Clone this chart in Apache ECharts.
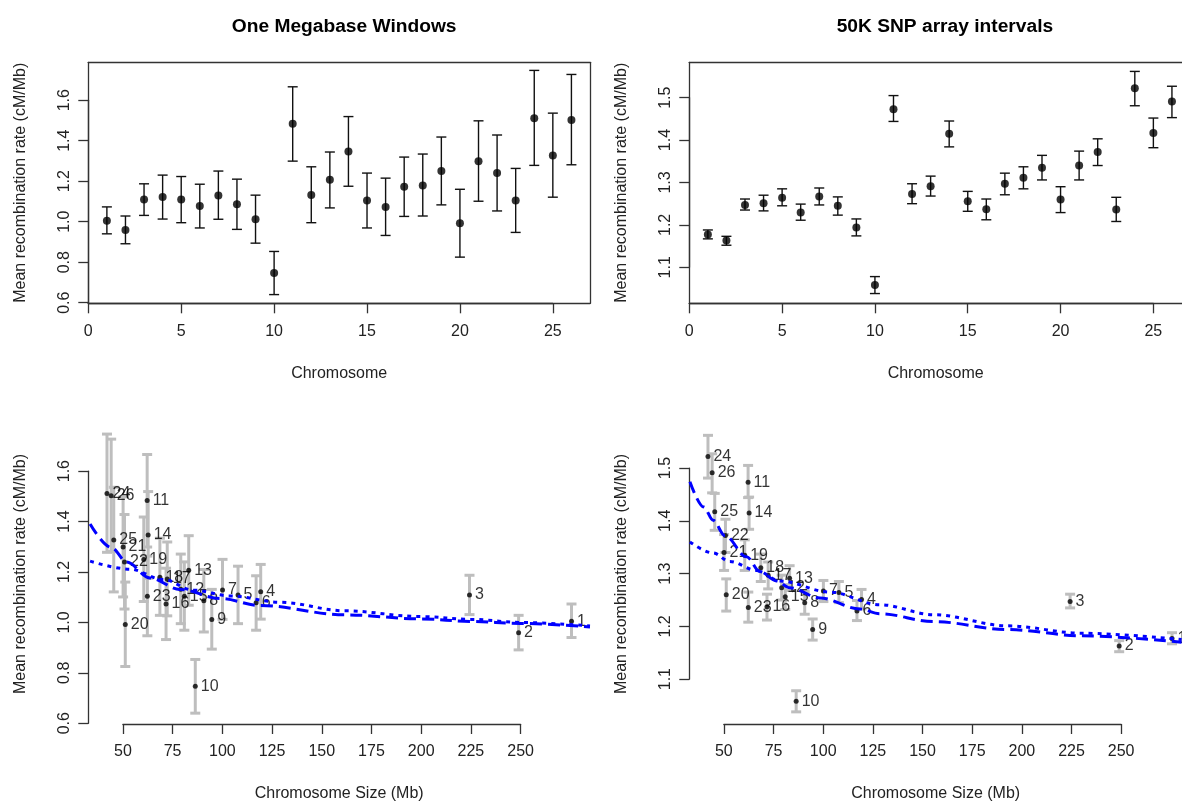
<!DOCTYPE html>
<html>
<head>
<meta charset="utf-8">
<script src="https://cdn.jsdelivr.net/npm/echarts@6/dist/echarts.min.js"></script>
<style>
html,body{margin:0;padding:0;background:#fff;}
#chart{width:1182px;height:804px;}
</style>
</head>
<body>
<div id="chart"></div>
<script>
// ---------------- data ----------------
const chromosomes = [1,2,3,4,5,6,7,8,9,10,11,12,13,14,15,16,17,18,19,20,21,22,23,24,25,26];
const chromSizeMb = [275.6,249.0,224.3,119.3,107.9,117.0,100.1,90.7,94.7,86.4,62.2,79.1,83.1,62.7,80.9,71.7,72.3,68.6,60.5,51.2,50.1,50.8,62.3,42.0,45.4,44.1];

// One Megabase Windows: mean and error bar limits
const mbMean  = [1.005,0.959,1.109,1.122,1.109,1.078,1.129,1.086,1.012,0.747,1.484,1.132,1.207,1.347,1.104,1.073,1.172,1.179,1.250,0.992,1.299,1.240,1.104,1.511,1.327,1.502];
const mbLower = [0.940,0.891,1.031,1.013,0.995,0.969,1.012,0.962,0.894,0.640,1.299,0.995,1.068,1.175,0.969,0.932,1.026,1.028,1.083,0.825,1.101,1.053,0.947,1.278,1.121,1.281];
const mbUpper = [1.073,1.028,1.187,1.230,1.223,1.185,1.250,1.210,1.131,0.853,1.666,1.271,1.344,1.519,1.240,1.215,1.319,1.334,1.418,1.160,1.498,1.428,1.263,1.747,1.536,1.727];

// 50K SNP array intervals
const snpMean  = [1.177,1.163,1.247,1.251,1.264,1.229,1.267,1.245,1.194,1.058,1.473,1.273,1.291,1.415,1.256,1.237,1.297,1.311,1.335,1.260,1.340,1.372,1.236,1.522,1.417,1.491];
const snpLower = [1.167,1.152,1.235,1.233,1.245,1.211,1.247,1.223,1.174,1.038,1.444,1.250,1.268,1.384,1.232,1.212,1.271,1.285,1.306,1.229,1.306,1.340,1.208,1.481,1.382,1.453];
const snpUpper = [1.188,1.173,1.261,1.270,1.285,1.249,1.287,1.266,1.214,1.078,1.505,1.297,1.315,1.445,1.279,1.261,1.322,1.337,1.364,1.290,1.374,1.403,1.265,1.562,1.452,1.527];

// fitted curves: [size (Mb), rate]
const mbFitDashed = [[33.5,1.390],[44.2,1.297],[51.9,1.240],[63.6,1.176],[78.7,1.131],[98.8,1.095],[119.2,1.067],[161.5,1.030],[200,1.014],[225,1.004],[250,0.996],[284.9,0.982]];
const mbFitDotted = [[33.5,1.243],[53.6,1.211],[70.3,1.170],[85.4,1.128],[103.9,1.105],[129,1.080],[161.5,1.046],[200,1.023],[225,1.012],[250,1.000],[284.9,0.986]];
const snpFitDashed = [[32.9,1.474],[39.9,1.426],[44.6,1.401],[50.5,1.372],[61.4,1.332],[68.1,1.304],[76.5,1.286],[83.2,1.273],[98.3,1.254],[118.4,1.233],[128.5,1.224],[155.7,1.209],[193,1.194],[230.4,1.182],[280.4,1.170]];
const snpFitDotted = [[32.9,1.360],[44.6,1.339],[53,1.323],[66.5,1.306],[78.2,1.286],[103.3,1.265],[128.5,1.241],[155.7,1.222],[193,1.201],[230.4,1.187],[280.4,1.175]];

// tick labels
const chromTicks = {min:0, max:25, step:5};
const sizeTicks = {min:50, max:250, step:25};
const mbRateTicks = {min:0.6, max:1.6, step:0.2};
const snpRateTicks = {min:1.1, max:1.5, step:0.1};

const titles = ['One Megabase Windows', '50K SNP array intervals'];
const yTitle = 'Mean recombination rate (cM/Mb)';

// ---------------- chart ----------------
const FONT = 'Liberation Sans';
const INK = '#222';
const AX = '#333';
const CANVAS_W = 1182;

const option = {
  backgroundColor:'#fff',
  animation:false,
  title:[],
  grid:[], xAxis:[], yAxis:[], series:[]
};

function errRender(color, width){
  return function(params, api){
    const x = api.value(0), lo = api.value(1), hi = api.value(2);
    const a = api.coord([x, lo]), b = api.coord([x, hi]);
    const hw = 5;
    const st = {stroke:color, lineWidth:width, fill:null};
    return {type:'group', children:[
      {type:'line', shape:{x1:a[0],y1:a[1],x2:b[0],y2:b[1]}, style:st},
      {type:'line', shape:{x1:a[0]-hw,y1:a[1],x2:a[0]+hw,y2:a[1]}, style:st},
      {type:'line', shape:{x1:b[0]-hw,y1:b[1],x2:b[0]+hw,y2:b[1]}, style:st}
    ]};
  };
}

const lineOnly = {show:true, onZero:false, lineStyle:{color:AX, width:1.3}};
const noLine = {show:false, onZero:false};

function addPanel(p){
  const g = option.grid.length;
  const box = Object.assign({}, p.box);
  const xr = p.xr.slice(), yr = p.yr.slice();
  const titleCenter = (box.left + box.right)/2;
  let rightBorder = p.boxed;
  // plot region runs past the page edge: keep the scale, stop the grid at the edge
  if (box.right > CANVAS_W){
    xr[1] = xr[0] + (CANVAS_W - box.left)/(box.right - box.left)*(xr[1]-xr[0]);
    box.right = CANVAS_W;
    rightBorder = false;
  }
  const Wd = box.right - box.left, H = box.bottom - box.top;
  // main grid
  option.grid.push({left:box.left, top:box.top, width:Wd, height:H, show:false});
  option.xAxis.push({gridIndex:g, type:'value', min:xr[0], max:xr[1], position:'bottom',
    axisLine:p.boxed ? lineOnly : noLine, axisTick:{show:false}, axisLabel:{show:false}, splitLine:{show:false},
    name:p.xName, nameLocation:'middle', nameGap:62,
    nameTextStyle:{fontSize:16, color:INK, fontFamily:FONT}});
  option.yAxis.push({gridIndex:g, type:'value', min:yr[0], max:yr[1], position:'left',
    axisLine:p.boxed ? lineOnly : noLine, axisTick:{show:false}, axisLabel:{show:false}, splitLine:{show:false},
    name:yTitle, nameLocation:'middle', nameGap:60, nameRotate:90,
    nameTextStyle:{fontSize:16, color:INK, fontFamily:FONT}});
  const mainX = option.xAxis.length - 1, mainY = option.yAxis.length - 1;
  if (p.boxed){
    // top edge and (if on the page) right edge of the box
    option.xAxis.push({gridIndex:g, type:'value', min:xr[0], max:xr[1], position:'top',
      axisLine:lineOnly, axisTick:{show:false}, axisLabel:{show:false}, splitLine:{show:false}});
    if (rightBorder) option.yAxis.push({gridIndex:g, type:'value', min:yr[0], max:yr[1], position:'right',
      axisLine:lineOnly, axisTick:{show:false}, axisLabel:{show:false}, splitLine:{show:false}});
  }
  // helper grid for x axis ticks
  const xt = p.xt, yt = p.yt;
  const xl = box.left + (xt.min - xr[0])/(xr[1]-xr[0])*Wd;
  const xw = (xt.max - xt.min)/(xr[1]-xr[0])*Wd;
  const gx = option.grid.length;
  option.grid.push({left:xl, top:box.top, width:xw, height:H, show:false});
  option.xAxis.push({gridIndex:gx, type:'value', min:xt.min, max:xt.max, interval:xt.step, position:'bottom',
    axisLine:lineOnly,
    axisTick:{show:true, length:10, lineStyle:{color:AX, width:1.3}},
    axisLabel:{margin:20, fontSize:16, color:INK, fontFamily:FONT},
    splitLine:{show:false}});
  option.yAxis.push({gridIndex:gx, type:'value', show:false, min:0, max:1, axisLine:noLine, splitLine:{show:false}});
  // helper grid for y axis ticks
  const yTop = box.top + (yr[1] - yt.max)/(yr[1]-yr[0])*H;
  const yh = (yt.max - yt.min)/(yr[1]-yr[0])*H;
  const gy = option.grid.length;
  option.grid.push({left:box.left, top:yTop, width:Wd, height:yh, show:false});
  option.xAxis.push({gridIndex:gy, type:'value', show:false, min:0, max:1, axisLine:noLine, splitLine:{show:false}});
  option.yAxis.push({gridIndex:gy, type:'value', min:yt.min, max:yt.max, interval:yt.step, position:'left',
    axisLine:lineOnly,
    axisTick:{show:true, length:10, lineStyle:{color:AX, width:1.3}},
    axisLabel:{rotate:90, margin:16, fontSize:16, color:INK, fontFamily:FONT, formatter:v=>v.toFixed(1)},
    splitLine:{show:false}});
  // title
  if (p.title) option.title.push({text:p.title, left:titleCenter, top:12, textAlign:'center',
    textStyle:{fontSize:19.2, fontWeight:'bold', color:'#000', fontFamily:FONT}});

  const errData = p.xs.map((x,i)=>[x, p.lo[i], p.hi[i]]);
  option.series.push({type:'custom', xAxisIndex:mainX, yAxisIndex:mainY, z:2,
    renderItem:errRender(p.errColor, p.errWidth), data:errData, silent:true});
  option.series.push({type:'scatter', xAxisIndex:mainX, yAxisIndex:mainY, z:3,
    symbol:'circle', symbolSize:p.dot, itemStyle:{color:'#000'},
    data:p.xs.map((x,i)=>[x, p.mean[i], chromosomes[i]]),
    label:p.labels ? {show:true, position:'right', distance:3, formatter:q=>String(q.value[2]),
      fontSize:16, color:'#000', fontFamily:FONT} : {show:false}});
  if (p.fits){
    option.series.push({type:'line', xAxisIndex:mainX, yAxisIndex:mainY, z:4, data:p.fits[0], symbol:'none',
      smooth:0.35, smoothMonotone:'x', lineStyle:{color:'#0000ff', width:3, type:[12,6]}});
    option.series.push({type:'line', xAxisIndex:mainX, yAxisIndex:mainY, z:4, data:p.fits[1], symbol:'none',
      smooth:0.35, smoothMonotone:'x', lineStyle:{color:'#0000ff', width:3, type:[4,5]}});
  }
}

const L1 = 88.3, R1 = 590, L2 = 689.3, R2 = 1190.5;
addPanel({box:{left:L1,right:R1,top:62.3,bottom:303.3}, boxed:true, xr:[0,27], yr:[0.597,1.787],
  xt:chromTicks, yt:mbRateTicks, xName:'Chromosome', title:titles[0],
  xs:chromosomes, mean:mbMean, lo:mbLower, hi:mbUpper, errColor:'#111', errWidth:1.4, dot:8, labels:false});
addPanel({box:{left:L2,right:R2,top:62.3,bottom:303.3}, boxed:true, xr:[0,27], yr:[1.015,1.5835],
  xt:chromTicks, yt:snpRateTicks, xName:'Chromosome', title:titles[1],
  xs:chromosomes, mean:snpMean, lo:snpLower, hi:snpUpper, errColor:'#111', errWidth:1.4, dot:8, labels:false});
addPanel({box:{left:L1,right:R1,top:424,bottom:724}, boxed:false, xr:[32.6,284.9], yr:[0.597,1.787],
  xt:sizeTicks, yt:mbRateTicks, xName:'Chromosome Size (Mb)',
  xs:chromSizeMb, mean:mbMean, lo:mbLower, hi:mbUpper, errColor:'#bebebe', errWidth:3, dot:5, labels:true,
  fits:[mbFitDashed, mbFitDotted]});
addPanel({box:{left:L2,right:R2,top:424,bottom:724}, boxed:false, xr:[32.6,284.9], yr:[1.015,1.5835],
  xt:sizeTicks, yt:snpRateTicks, xName:'Chromosome Size (Mb)',
  xs:chromSizeMb, mean:snpMean, lo:snpLower, hi:snpUpper, errColor:'#bebebe', errWidth:3, dot:5, labels:true,
  fits:[snpFitDashed, snpFitDotted]});

const chart = echarts.init(document.getElementById('chart'), null, {renderer:'canvas'});
chart.setOption(option);
</script>
</body>
</html>
